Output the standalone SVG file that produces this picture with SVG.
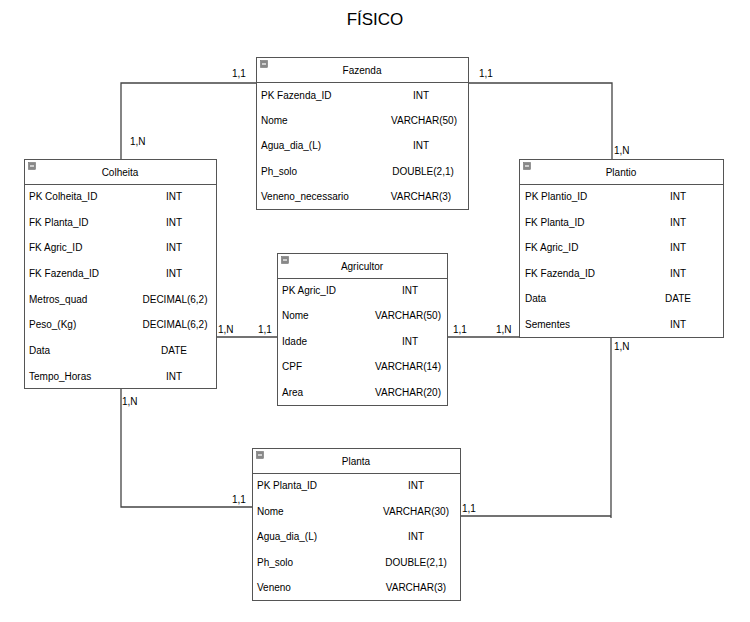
<svg xmlns="http://www.w3.org/2000/svg" width="750" height="622" viewBox="0 0 750 622">
<style>
text{font-family:"Liberation Sans",Arial,sans-serif;font-size:10px;fill:#000}
.title{font-size:17px}
.box{fill:#fff;stroke:#555;stroke-width:1}
.div{stroke:#555;stroke-width:1}
.hd{text-anchor:middle}
.ty{text-anchor:middle}
.con{fill:none;stroke:#444;stroke-width:1.3}
.icon{fill:#888;stroke:#666;stroke-width:0.5}
.dash{stroke:#fff;stroke-width:1.2}
</style>
<rect width="750" height="622" fill="#fff"/>
<text class="title" x="375" y="25" text-anchor="middle">FÍSICO</text>

<g id="connectors">
<polyline class="con" points="121,159 121,83 612,83 612,159"/>
<line class="con" x1="216" y1="337" x2="277" y2="337"/>
<line class="con" x1="447" y1="337" x2="519" y2="337"/>
<polyline class="con" points="121,389 121,507 252,507"/>
<polyline class="con" points="611,338 611,518"/>
<line class="con" x1="460" y1="516" x2="611" y2="516"/>
<text x="232" y="77">1,1</text>
<text x="130" y="145">1,N</text>
<text x="479" y="77">1,1</text>
<text x="614" y="154">1,N</text>
<text x="218" y="333">1,N</text>
<text x="258" y="333">1,1</text>
<text x="453" y="333">1,1</text>
<text x="496" y="333">1,N</text>
<text x="122" y="405">1,N</text>
<text x="232" y="503">1,1</text>
<text x="614" y="350">1,N</text>
<text x="462" y="512">1,1</text>
</g>

<g id="fazenda">
<rect class="box" x="256.5" y="57.5" width="212" height="152"/>
<line class="div" x1="256.5" y1="82.5" x2="468.5" y2="82.5"/>
<rect class="icon" x="260.5" y="60.5" width="7" height="7"/><line class="dash" x1="262" y1="64" x2="266" y2="64"/>
<text class="hd" x="362" y="74">Fazenda</text>
<text x="261" y="99">PK Fazenda_ID</text><text class="ty" x="421" y="99">INT</text>
<text x="261" y="124">Nome</text><text class="ty" x="424" y="124">VARCHAR(50)</text>
<text x="261" y="149">Agua_dia_(L)</text><text class="ty" x="421" y="149">INT</text>
<text x="261" y="175">Ph_solo</text><text class="ty" x="423" y="175">DOUBLE(2,1)</text>
<text x="261" y="200">Veneno_necessario</text><text class="ty" x="421" y="200">VARCHAR(3)</text>
</g>

<g id="colheita">
<rect class="box" x="24.5" y="159.5" width="192" height="229"/>
<line class="div" x1="24.5" y1="184.5" x2="216.5" y2="184.5"/>
<rect class="icon" x="28.5" y="162.5" width="7" height="7"/><line class="dash" x1="30" y1="166" x2="34" y2="166"/>
<text class="hd" x="120" y="176">Colheita</text>
<text x="29" y="200">PK Colheita_ID</text><text class="ty" x="174" y="200">INT</text>
<text x="29" y="226">FK Planta_ID</text><text class="ty" x="174" y="226">INT</text>
<text x="29" y="251">FK Agric_ID</text><text class="ty" x="174" y="251">INT</text>
<text x="29" y="277">FK Fazenda_ID</text><text class="ty" x="174" y="277">INT</text>
<text x="29" y="303">Metros_quad</text><text class="ty" x="175" y="303">DECIMAL(6,2)</text>
<text x="29" y="328">Peso_(Kg)</text><text class="ty" x="175" y="328">DECIMAL(6,2)</text>
<text x="29" y="354">Data</text><text class="ty" x="174" y="354">DATE</text>
<text x="29" y="380">Tempo_Horas</text><text class="ty" x="174" y="380">INT</text>
</g>

<g id="plantio">
<rect class="box" x="519.5" y="159.5" width="204" height="178"/>
<line class="div" x1="519.5" y1="184.5" x2="723.5" y2="184.5"/>
<rect class="icon" x="523.5" y="162.5" width="7" height="7"/><line class="dash" x1="525" y1="166" x2="529" y2="166"/>
<text class="hd" x="621" y="176">Plantio</text>
<text x="525" y="200">PK Plantio_ID</text><text class="ty" x="678" y="200">INT</text>
<text x="525" y="226">FK Planta_ID</text><text class="ty" x="678" y="226">INT</text>
<text x="525" y="251">FK Agric_ID</text><text class="ty" x="678" y="251">INT</text>
<text x="525" y="277">FK Fazenda_ID</text><text class="ty" x="678" y="277">INT</text>
<text x="525" y="302">Data</text><text class="ty" x="678" y="302">DATE</text>
<text x="525" y="328">Sementes</text><text class="ty" x="678" y="328">INT</text>
</g>

<g id="agricultor">
<rect class="box" x="277.5" y="253.5" width="170" height="152"/>
<line class="div" x1="277.5" y1="278.5" x2="447.5" y2="278.5"/>
<rect class="icon" x="281.5" y="256.5" width="7" height="7"/><line class="dash" x1="283" y1="260" x2="287" y2="260"/>
<text class="hd" x="362" y="270">Agricultor</text>
<text x="282" y="294">PK Agric_ID</text><text class="ty" x="410" y="294">INT</text>
<text x="282" y="319">Nome</text><text class="ty" x="408" y="319">VARCHAR(50)</text>
<text x="282" y="345">Idade</text><text class="ty" x="410" y="345">INT</text>
<text x="282" y="370">CPF</text><text class="ty" x="408" y="370">VARCHAR(14)</text>
<text x="282" y="396">Area</text><text class="ty" x="408" y="396">VARCHAR(20)</text>
</g>

<g id="planta">
<rect class="box" x="252.5" y="448.5" width="208" height="152"/>
<line class="div" x1="252.5" y1="473.5" x2="460.5" y2="473.5"/>
<rect class="icon" x="256.5" y="451.5" width="7" height="7"/><line class="dash" x1="258" y1="455" x2="262" y2="455"/>
<text class="hd" x="356" y="465">Planta</text>
<text x="257" y="489">PK Planta_ID</text><text class="ty" x="416" y="489">INT</text>
<text x="257" y="515">Nome</text><text class="ty" x="416" y="515">VARCHAR(30)</text>
<text x="257" y="540">Agua_dia_(L)</text><text class="ty" x="416" y="540">INT</text>
<text x="257" y="566">Ph_solo</text><text class="ty" x="416" y="566">DOUBLE(2,1)</text>
<text x="257" y="591">Veneno</text><text class="ty" x="416" y="591">VARCHAR(3)</text>
</g>
</svg>
